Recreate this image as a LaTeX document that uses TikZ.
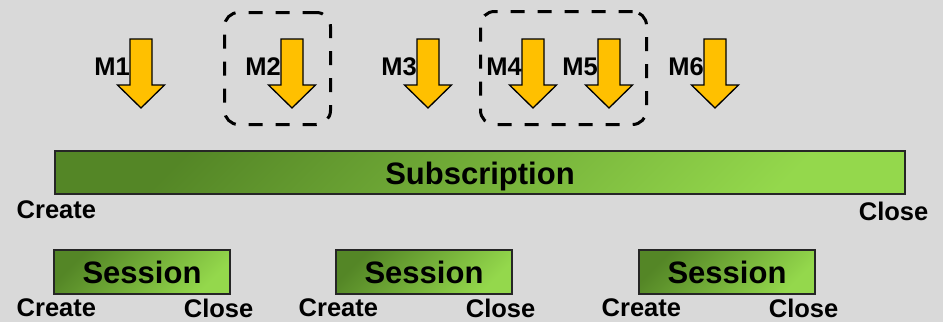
\documentclass[tikz,border=0pt]{standalone}
\usepackage{fontspec}
\setmainfont{Liberation Sans}
\usetikzlibrary{positioning}
\definecolor{bgcolor}{RGB}{217,217,217}
\definecolor{msgcolor}{RGB}{255,192,0}
\definecolor{bardark}{RGB}{84,134,38}
\definecolor{barlight}{RGB}{148,216,76}
\newcommand\bigfont{\fontsize{31}{36}\selectfont\bfseries}
\newcommand\tagfont{\fontsize{25.5}{30}\selectfont\bfseries}
\tikzset{msgstyle/.style={draw=black, line width=1.3pt, fill=msgcolor, line join=miter}}
\tikzset{msgarrow/.pic={\draw[msgstyle] (-11,-34.5) -- (11,-34.5) -- (11,11.5) -- (23.5,11.5) -- (0,34.5) -- (-23.5,11.5) -- (-11,11.5) -- cycle;}}
\tikzset{bar/.style={draw=black!85, line width=1.2pt, top color=bardark, bottom color=barlight, shading angle=45, inner sep=0pt, text height=23pt, text depth=0pt, font=\bigfont}}
\tikzset{tag/.style={font=\tagfont, inner sep=0pt, anchor=base}}
\tikzset{grpbox/.style={draw=black, line width=3pt, dash pattern=on 14pt off 13pt, rounded corners=14pt}}

\begin{document}
\begin{tikzpicture}[x=1pt, y=-1pt]
\fill[bgcolor] (0,0) rectangle (943,322);
\useasboundingbox (0,0) rectangle (943,322);
% message arrows
\foreach \ax [count=\i] in {141,292,428,533,609,715} {
	\node[tag, anchor=base east] (m\i) at (\ax-11,75) {M\i};
	\pic (arr\i) at (\ax,73.5) {msgarrow};
}
\node[grpbox, minimum width=106pt, minimum height=112pt] (grp1) at (277.5,68.5) {};
\node[grpbox, minimum width=166pt, minimum height=113pt] (grp2) at (563.5,68) {};
% subscription
\node[bar, minimum width=850pt, minimum height=43pt] (sub) at (480,172.5) {Subscription};
\node[tag] (subcreate) at ([xshift=2pt,yshift=-24pt]sub.south west) {Create};
\node[tag] (subclose) at ([xshift=-12pt,yshift=-26pt]sub.south east) {Close};
% sessions
\foreach \sx [count=\i] in {142,424,727} {
	\node[bar, minimum width=176pt, minimum height=44pt] (ses\i) at (\sx,272) {Session};
	\node[tag] (create\i) at ([xshift=3pt,yshift=-22pt]ses\i.south west) {Create};
	\node[tag] (close\i) at ([xshift=-12pt,yshift=-23pt]ses\i.south east) {Close};
}
\end{tikzpicture}
\end{document}
